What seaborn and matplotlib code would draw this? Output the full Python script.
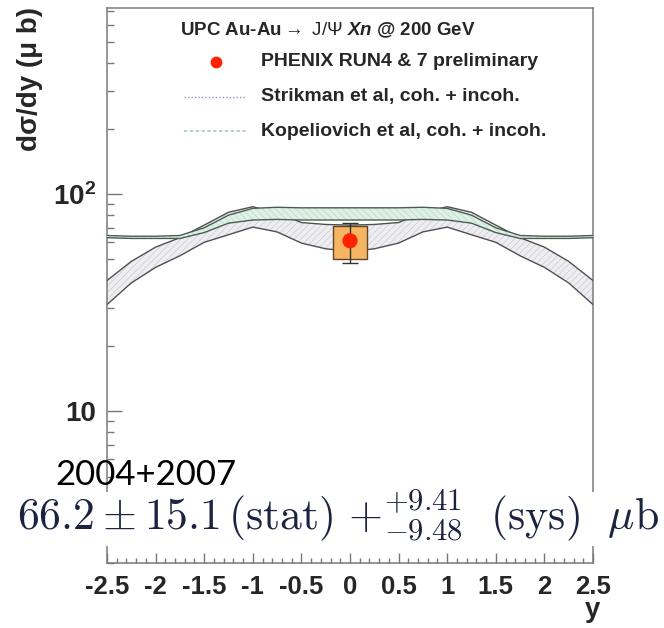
import numpy as np
import pandas as pd
import matplotlib
matplotlib.use("Agg")
import matplotlib.pyplot as plt
import seaborn as sns
from matplotlib.patches import Rectangle
from matplotlib.lines import Line2D
from matplotlib.ticker import FixedLocator, FixedFormatter, LogLocator, NullFormatter, MultipleLocator

# ---------------- data ----------------
rapidity = [-2.5, -2.25, -2.0, -1.75, -1.5, -1.25, -1.0, -0.75, -0.5, -0.25, 0.0,
            0.25, 0.5, 0.75, 1.0, 1.25, 1.5, 1.75, 2.0, 2.25, 2.5]
strikman_hi = [40, 49, 57, 63, 72, 82.5, 87.5, 82, 74, 72.5, 72,
               72.5, 74, 82, 87.5, 82.5, 72, 63, 57, 49, 40]
strikman_lo = [31, 39, 46, 52, 60, 65, 70.5, 67, 59.5, 56, 54.5,
               56, 59.5, 67, 70.5, 65, 60, 52, 46, 39, 31]
kopel_hi = [64.5, 64, 64, 64.5, 70, 80, 86, 87, 86.5, 86.5, 86.5,
            86.5, 86.5, 87, 86, 80, 70, 64.5, 64, 64, 64.5]
kopel_lo = [63, 62.5, 62.5, 62.5, 66.5, 73.5, 76, 76.5, 76, 76, 76,
            76, 76, 76.5, 76, 73.5, 66.5, 62.5, 62.5, 62.5, 63]

phenix_y = [0.0]
phenix_val = [61.0]
phenix_stat_lo = [48.0]
phenix_stat_hi = [74.0]
phenix_sys_lo = [50.0]
phenix_sys_hi = [71.5]
sys_halfwidth = 0.17

x_ticks = [-2.5, -2.0, -1.5, -1.0, -0.5, 0.0, 0.5, 1.0, 1.5, 2.0, 2.5]
x_ticklabels = ["-2.5", "-2", "-1.5", "-1", "-0.5", "0", "0.5", "1", "1.5", "2", "2.5"]
y_ticks = [10, 100]
y_ticklabels = ["10", r"$\mathbf{10^{2}}$"]

title_txt = r"UPC Au-Au$\rightarrow$ $\mathrm{J/\Psi}$ $Xn$ @ 200 GeV"
legend_labels = ["PHENIX RUN4 & 7 preliminary",
                 "Strikman et al, coh. + incoh.",
                 "Kopeliovich et al, coh. + incoh."]
formula_txt = r"$66.2 \pm 15.1\,(\mathrm{stat})\ {+}^{+9.41}_{-9.48}\ \ (\mathrm{sys})\ \ \mu\mathrm{b}$"
years_txt = "2004+2007"

df = pd.DataFrame({"y": rapidity, "s_hi": strikman_hi, "s_lo": strikman_lo,
                   "k_hi": kopel_hi, "k_lo": kopel_lo})

# ---------------- style ----------------
sns.set_theme(style="white")
plt.rcParams["font.family"] = ["Liberation Sans", "DejaVu Sans"]
plt.rcParams["mathtext.fontset"] = "custom"
plt.rcParams["mathtext.rm"] = "Liberation Sans"
plt.rcParams["mathtext.bf"] = "Liberation Sans:bold"
plt.rcParams["mathtext.it"] = "Liberation Sans:bold:italic"
plt.rcParams["hatch.linewidth"] = 0.4

W, H = 664, 628
fig = plt.figure(figsize=(W / 100, H / 100), dpi=100)
fig.patch.set_facecolor("white")
L, R, T, B = 107, 593, 8, 563
ax = fig.add_axes([L / W, 1 - B / H, (R - L) / W, (B - T) / H])
ax.set_facecolor("white")

def fx(px):
    return px / W

def fy(py):
    return 1 - py / H

# Strikman band (grey)
ax.fill_between(df["y"], df["s_lo"], df["s_hi"], facecolor="#eeeef2",
                edgecolor="#c2c2cc", hatch="/////", linewidth=0, zorder=2)
sns.lineplot(data=df, x="y", y="s_hi", ax=ax, color="#505050", lw=1.0, zorder=3)
sns.lineplot(data=df, x="y", y="s_lo", ax=ax, color="#505050", lw=1.0, zorder=3)

# Kopeliovich band (green)
ax.fill_between(df["y"], df["k_lo"], df["k_hi"], facecolor="#dff1e6",
                edgecolor="#add3b9", hatch="\\\\\\\\\\", linewidth=0, zorder=4)
sns.lineplot(data=df, x="y", y="k_hi", ax=ax, color="#4c5e54", lw=1.0, zorder=5)
sns.lineplot(data=df, x="y", y="k_lo", ax=ax, color="#4c5e54", lw=1.0, zorder=5)

# PHENIX point: sys box, stat error, point
for yc, lo, hi in zip(phenix_y, phenix_sys_lo, phenix_sys_hi):
    ax.add_patch(Rectangle((yc - sys_halfwidth, lo), 2 * sys_halfwidth, hi - lo,
                           facecolor="#f5b562", edgecolor="#5e4428", lw=1.0, zorder=6))
err = np.array([np.array(phenix_val) - np.array(phenix_stat_lo),
                np.array(phenix_stat_hi) - np.array(phenix_val)])
ax.errorbar(phenix_y, phenix_val, yerr=err, fmt="none", ecolor="#333333",
            elinewidth=1.0, capsize=6, capthick=1.0, zorder=7)
sns.scatterplot(x=phenix_y, y=phenix_val, ax=ax, color="#ff2200", s=120,
                edgecolor="none", zorder=8)

# axes
ax.set_yscale("log")
ax.set_xlim(-2.5, 2.5)
ax.set_ylim(2, 720)
ax.yaxis.set_major_locator(FixedLocator(y_ticks))
ax.yaxis.set_major_formatter(FixedFormatter(y_ticklabels))
ax.yaxis.set_minor_locator(LogLocator(base=10, subs=range(2, 10)))
ax.yaxis.set_minor_formatter(NullFormatter())
ax.set_xticks(x_ticks, x_ticklabels)
ax.xaxis.set_minor_locator(MultipleLocator(0.1))

ax.tick_params(axis="y", which="both", direction="in", left=True, right=False,
               color="#777777", width=1.0)
ax.tick_params(axis="y", which="major", length=10.8, pad=8, labelsize=20)
ax.tick_params(axis="y", which="minor", length=5)
ax.tick_params(axis="x", which="both", direction="in", bottom=True, top=False,
               color="#777777", width=1.0)
ax.tick_params(axis="x", which="major", length=7.2, pad=9, labelsize=18.5)
ax.tick_params(axis="x", which="minor", length=3.6)
for lab in ax.get_xticklabels() + ax.get_yticklabels():
    lab.set_fontweight("bold")
for sp in ax.spines.values():
    sp.set_color("#7a7a7a")
    sp.set_linewidth(1.1)
    sp.set_visible(True)

ax.set_xlabel("y", fontsize=20, fontweight="bold", loc="right")
ax.xaxis.set_label_coords(1.0, -(617 - B) / (B - T))
ax.xaxis.label.set_va("baseline")
ax.xaxis.label.set_ha("center")
ax.set_ylabel("dσ/dy (μ b)", fontsize=20, fontweight="bold", loc="top")
ax.yaxis.set_label_coords((43 - L) / (R - L), 1 + 1 / (B - T))

# legend (drawn by hand, ROOT style)
fig.text(fx(180), fy(30), title_txt, fontsize=13.5, fontweight="bold",
         ha="left", va="center")
fig.add_artist(Line2D([fx(216)], [fy(62)], marker="o", color="#ff2200",
                      markersize=8.5, markeredgewidth=0, transform=fig.transFigure))
fig.add_artist(Line2D([fx(184), fx(246)], [fy(97), fy(97)], color="#8f90c0",
                      lw=1.0, ls=(0, (1, 1.5)), transform=fig.transFigure))
fig.add_artist(Line2D([fx(184), fx(246)], [fy(131), fy(131)], color="#9fcdb0",
                      lw=1.2, ls=(0, (2, 1.5)), transform=fig.transFigure))
for lab, py in zip(legend_labels, [62, 97, 131]):
    fig.text(fx(261), fy(py), lab, fontsize=14, fontweight="bold",
             ha="left", va="center")

# pasted annotation
fig.add_artist(Rectangle((0, fy(546)), 1, (546 - 492) / H, transform=fig.transFigure,
                         facecolor="white", edgecolor="none", zorder=20))
fig.text(fx(55), fy(485), years_txt, fontsize=25, family=["Lato", "DejaVu Sans"],
         color="black", ha="left", va="baseline", zorder=21)
fig.text(fx(17), fy(529), formula_txt, fontsize=31.5, color="#1b2340",
         math_fontfamily="cm", ha="left", va="baseline", zorder=21)

fig.savefig("out.png", dpi=100, facecolor="white")
